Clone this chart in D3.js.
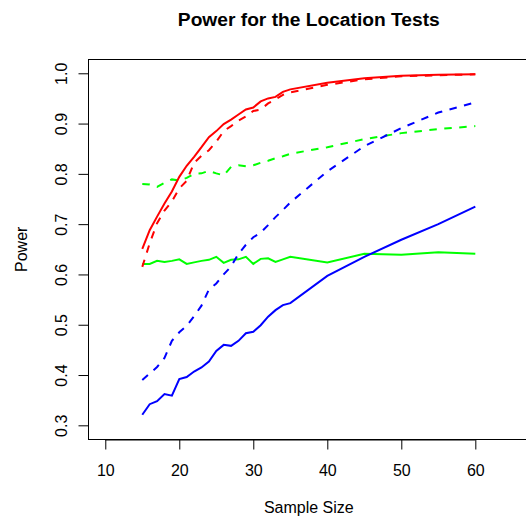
<!DOCTYPE html>
<html>
<head>
<meta charset="utf-8">
<script src="https://cdn.jsdelivr.net/npm/d3@7"></script>
<style>
  html, body { margin: 0; padding: 0; background: #fff; }
  svg { display: block; }
  text { font-family: "Liberation Sans", Arial, Helvetica, sans-serif; fill: #000; }
</style>
</head>
<body>
<svg id="chart" width="526" height="518"></svg>
<script>
// ---- data ----
const sampleSizes = [15,16,17,18,19,20,21,22,23,24,25,26,27,28,29,30,31,32,33,34,35,40,45,50,55,60];

const redSolid   = [0.651,0.688,0.715,0.741,0.765,0.794,0.816,0.834,0.853,0.873,0.885,0.899,0.908,0.918,0.928,0.932,0.944,0.950,0.953,0.963,0.968,0.981,0.990,0.995,0.997,0.998];
const redDashed  = [0.615,0.662,0.702,0.727,0.745,0.771,0.786,0.822,0.836,0.847,0.864,0.885,0.895,0.906,0.914,0.925,0.928,0.940,0.948,0.957,0.962,0.977,0.988,0.994,0.996,0.998];
const greenSolid = [0.621,0.621,0.627,0.625,0.627,0.630,0.621,0.624,0.627,0.629,0.635,0.623,0.629,0.630,0.635,0.621,0.631,0.632,0.625,0.630,0.635,0.624,0.641,0.639,0.644,0.641];
const greenDashed= [0.780,0.779,0.774,0.782,0.789,0.787,0.792,0.800,0.801,0.806,0.801,0.797,0.814,0.817,0.815,0.817,0.822,0.826,0.831,0.835,0.840,0.853,0.869,0.881,0.889,0.895];
const blueSolid  = [0.321,0.342,0.348,0.362,0.359,0.392,0.396,0.407,0.415,0.427,0.448,0.460,0.458,0.468,0.483,0.486,0.499,0.516,0.529,0.539,0.543,0.597,0.635,0.669,0.700,0.735];
const blueDashed = [0.390,0.403,0.416,0.434,0.468,0.485,0.498,0.517,0.538,0.570,0.582,0.600,0.616,0.641,0.659,0.674,0.683,0.698,0.714,0.728,0.743,0.805,0.855,0.891,0.922,0.942];

const xTicks = [10,20,30,40,50,60];
const yTicks = [0.3,0.4,0.5,0.6,0.7,0.8,0.9,1.0];

const titleText = "Power for the Location Tests";
const xLabel = "Sample Size";
const yLabel = "Power";

const seriesList = [
  { values: greenSolid,  color: "#00FF00", dashed: false },
  { values: greenDashed, color: "#00FF00", dashed: true },
  { values: redSolid,    color: "#FF0000", dashed: false },
  { values: redDashed,   color: "#FF0000", dashed: true },
  { values: blueSolid,   color: "#0000FF", dashed: false },
  { values: blueDashed,  color: "#0000FF", dashed: true }
];

// ---- layout ----
const svg = d3.select("#chart");
const plotLeft = 89, plotRight = 528.6, plotTop = 59.2, plotBottom = 439.4;

const x = d3.scaleLinear().domain([7.8, 67.2]).range([plotLeft, plotRight]);
const y = d3.scaleLinear().domain([0.272, 1.028]).range([plotBottom, plotTop]);

// box
svg.append("rect")
  .attr("x", 88.5).attr("y", 59.5)
  .attr("width", 441).attr("height", 380)
  .attr("fill", "none").attr("stroke", "#000").attr("stroke-width", 1);

// lines
const line = d3.line()
  .x((d, i) => x(sampleSizes[i]))
  .y(d => y(d));

seriesList.forEach(s => {
  svg.append("path")
    .datum(s.values)
    .attr("d", line)
    .attr("fill", "none")
    .attr("stroke", s.color)
    .attr("stroke-width", 2)
    .attr("stroke-dasharray", s.dashed ? "7.5,7.5" : null);
});

// x axis
const xAxis = d3.axisBottom(x).tickValues(xTicks).tickSize(10).tickPadding(0).tickFormat(d3.format("d"));
const gx = svg.append("g").attr("transform", "translate(0,439.5)").call(xAxis);
gx.select(".domain").attr("d", `M${x(10)},0.5H${x(60)}`).attr("stroke", "#000");
gx.selectAll(".tick line").attr("stroke", "#000");
gx.selectAll(".tick text")
  .attr("y", 36).attr("dy", null)
  .style("font-size", "16px")
  .style("font-family", "'Liberation Sans', Arial, sans-serif");

// y axis
const yAxis = d3.axisLeft(y).tickValues(yTicks).tickSize(10).tickPadding(0).tickFormat(d3.format(".1f"));
const gy = svg.append("g").attr("transform", "translate(88.5,0)").call(yAxis);
gy.select(".domain").attr("d", `M0,${y(0.3)}V${y(1.0)}`).attr("stroke", "#000");
gy.selectAll(".tick line").attr("stroke", "#000");
gy.selectAll(".tick text")
  .attr("x", null).attr("dy", null)
  .attr("text-anchor", "middle")
  .attr("transform", "translate(-22,0) rotate(-90)")
  .attr("y", 0)
  .style("font-size", "16px")
  .style("font-family", "'Liberation Sans', Arial, sans-serif");

// labels
svg.append("text")
  .attr("x", (plotLeft + plotRight) / 2).attr("y", 26)
  .attr("text-anchor", "middle")
  .style("font-size", "19.2px").style("font-weight", "bold")
  .text(titleText);

svg.append("text")
  .attr("x", (plotLeft + plotRight) / 2).attr("y", 513)
  .attr("text-anchor", "middle")
  .style("font-size", "16px")
  .text(xLabel);

svg.append("text")
  .attr("transform", `translate(27.3,${(plotTop + plotBottom) / 2}) rotate(-90)`)
  .attr("text-anchor", "middle")
  .style("font-size", "16px")
  .text(yLabel);
</script>
</body>
</html>
